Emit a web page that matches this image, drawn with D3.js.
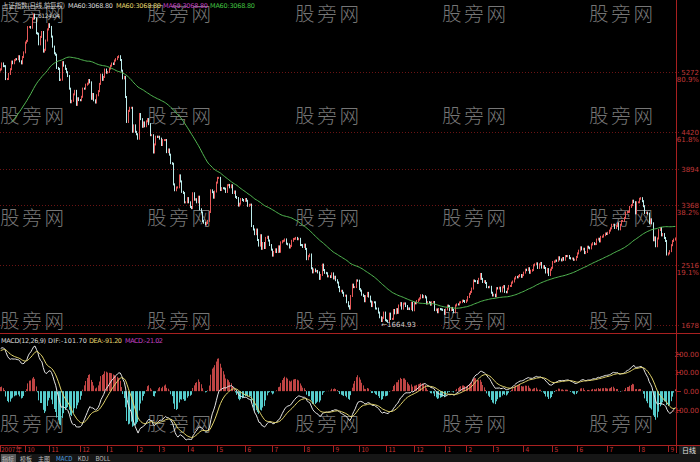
<!DOCTYPE html>
<html><head><meta charset="utf-8">
<script src="https://cdn.jsdelivr.net/npm/d3@7/dist/d3.min.js"></script>
<style>html,body{margin:0;padding:0;background:#000;overflow:hidden}svg{display:block}</style>
</head><body><svg id="c" width="700" height="462"></svg>
<script>
// ---------- DATA (daily closes of the Shanghai Composite, read/estimated) ----------
// warm-up closes before the visible window (used only for MA60 / MACD)
const warmupCloses = [4071,4181,3914,3820,
3837,3836,3615,3615,3781,3883,3914,3853,3930,3914,3806,3860,3907,3985,4058,4213,4300,4276,4347,4345,4440,4471,
4300,4406,4560,4628,4660,4750,4740,4749,4820,4872,4869,4787,4656,4793,4887,4920,4980,5032,5150,5194,5076,5108,5219,
5321,5294];
const closes = [
5310,5394,5356,5355,5171,5172,5244,5312,5421,5397,5441,5455,5454,5497,5425,5395,5485,5552,
5692,5716,5913,5914,5904,6030,6092,6036,5826,5818,5667,5773,5843,5563,5589,5721,5879,5954,
5915,5777,5634,5539,5518,5330,5316,5158,5163,5412,5362,5316,5269,5214,5034,4840,4861,4952,5003,4803,4897,4871,
4869,4918,5035,5034,5091,5105,5157,5124,4889,4958,4868,4836,4940,4999,5102,5234,5160,5201,5307,5262,
5273,5320,5361,5393,5386,5435,5456,5484,5497,5443,5291,5181,5203,4915,4559,4717,4761,4761,4419,4510,4418,4383,
4320,4672,4599,4490,4552,4497,4568,4600,4528,4370,4370,4123,4238,4349,4345,4348,
4321,4230,4300,4300,4301,4128,4166,4092,3971,3962,3668,3584,3623,3626,3796,3710,3561,3544,3411,3412,3472,
3412,3346,3329,3541,3449,3456,3412,3492,3312,3267,3145,3120,3094,3116,3147,3274,3583,3557,3478,3566,3693,
3761,3761,3587,3614,3613,3606,3560,3656,3660,3626,3655,3545,3566,3488,3473,3365,3392,3458,3445,3433,
3459,3434,3362,3377,3379,3073,3024,2957,3023,2874,2794,2942,2748,2831,2760,2904,2920,2866,2802,2736,
2651,2703,2741,2702,2783,2706,2840,2857,2864,2882,2820,2811,2767,2790,2863,2889,2892,2904,2885,2891,2802,2801,2775,
2808,2747,2600,2644,2667,2470,2412,2453,2428,2432,2411,2319,2375,2523,2445,2405,2399,2355,2357,2345,2397,
2325,2350,2300,2267,2202,2143,2149,2121,2078,2080,1986,1929,1895,2075,2237,2201,2202,2297,2293,
2173,2151,2093,2074,2000,2073,2119,2066,1996,1931,1985,1984,1896,1895,1838,1771,1718,1763,1838,1729,
1720,1706,1823,1747,1748,1875,1827,1887,1834,1939,1973,1894,1966,1969,1931,1889,1897,1888,1978,1871,
1976,1970,2002,2023,2042,2085,2057,2072,2055,1968,1987,1980,1951,1985,1989,1873,1883,1843,1889,1886,1881,1875,1820,
1882,1937,1929,1872,1904,1875,1841,1940,1955,1954,1983,1987,2008,2003,1990,
2011,2060,2106,2133,2181,2296,2287,2286,2261,2320,2389,2319,2275,2287,2260,2201,2200,2206,2121,2082,
2093,2071,2187,2182,2193,2141,2199,2216,2133,2128,2178,2218,2218,2265,2282,2325,2347,2341,2359,2374,2348,2373,
2408,2450,2444,2471,2406,2436,2445,2513,2526,2541,2475,2527,2546,2480,2501,2474,2410,2459,2374,2450,2477,
2560,2567,2581,2577,2627,2597,2583,2617,2592,2645,2643,2646,2615,2610,2610,2591,2593,2632,
2683,2722,2769,2740,2749,2687,2703,2778,2764,2754,2810,2829,2815,2816,2880,2892,2854,2919,2923,2943,2967,2959,
2977,3008,3040,3091,3092,3046,3073,3113,3026,3091,3145,3146,3189,3266,3274,3276,3346,3372,3435,3414,3254,3412,3412,
3462,3471,3428,3356,3260,3265,3250,3112,3169,3112,2870,2911,2785,2896,3016,3046,2940,2959,2903,2860,2667,
2683,2715,2800,2859,2880,2896];
const monthLabels = ["2007年","10","11","12","1","2","3","4","5","6","7","8","9","10","11","12","1","2","3","4","5","6","7","8","9"];
const monthCounts = [18,18,22,20,22,16,21,21,20,20,23,21,19,20,20,23,15,20,22,21,18,22,23,21,6];
const swingHigh = 6124.04, swingHighIndex = 24;
const swingLow = 1664.93, swingLowIndex = 276;
const fibRatios = [0.809, 0.618, 0.5, 0.382, 0.191, 0];
const fibValueLabels = ["5272","4420","3894","3368","2516","1678"];
const fibPctLabels = ["80.9%","61.8%","","38.2%","19.1%",""];
const macdTicks = [200, 100, 0, -100];
const titleText = "上证指数(日线,前复权)";
const maLegend = ["MA60:3068.80","MA60:3068.80","MA60:3068.80","MA60:3068.80"];
const macdLegend = ["MACD(12,26,9)","DIF:-101.70","DEA:-91.20","MACD:-21.02"];
const bottomTabs = ["指标","模板","主图","MACD","KDJ","BOLL"];
const watermark = "股旁网";

// ---------- LAYOUT ----------
const W = 700, H = 462, plotR = 676;
const mainTop = 0, mainBot = 333, macdTop = 334, macdBot = 445;
const svg = d3.select("#c");
svg.append("rect").attr("width", W).attr("height", H).attr("fill", "#000");

const all = warmupCloses.concat(closes);
const off = warmupCloses.length;
const N = closes.length;

const x = d3.scaleLinear().domain([0, N]).range([0, plotR]);
const y = d3.scaleLinear().domain([swingLow, swingHigh]).range([324.7, 12.3]);
const ym = d3.scaleLinear().domain([-100, 200]).range([410, 353.5]);

// indicators
function ema(arr, n) { const k = 2 / (n + 1); const out = []; let p = arr[0];
  arr.forEach((v, i) => { p = i === 0 ? v : p + k * (v - p); out.push(p); }); return out; }
const e12 = ema(all, 12), e26 = ema(all, 26);
const difAll = all.map((v, i) => e12[i] - e26[i]);
const deaAll = ema(difAll, 9);
const bars = closes.map((c, i) => {
  const j = i + off;
  const o = all[j - 1];
  let ma = null;
  if (j >= 59) ma = d3.mean(all.slice(j - 59, j + 1));
  return { i, o, c, ma, dif: difAll[j], dea: deaAll[j], m: 2 * (difAll[j] - deaAll[j]) };
});

// watermarks
const wmX = [0, 147, 295, 442, 589], wmY = [14, 116, 218, 321, 424];
const wm = svg.append("g");
wmY.forEach(yy => wmX.forEach(xx => {
  wm.append("text").attr("x", xx).attr("y", yy).attr("dy", "0.36em")
    .attr("font-family", "'Noto Sans CJK SC',sans-serif").attr("font-size", 19.5).attr("font-weight", 300)
    .attr("fill", "#767676").attr("textLength", 64).text(watermark);
}));

const defs = svg.append("defs");
defs.append("clipPath").attr("id", "cm").append("rect").attr("x", 0).attr("y", mainTop).attr("width", plotR).attr("height", mainBot - mainTop);
defs.append("clipPath").attr("id", "cd").append("rect").attr("x", 0).attr("y", macdTop).attr("width", plotR).attr("height", macdBot - macdTop);

// fib lines
const fibVals = fibRatios.map(r => swingLow + r * (swingHigh - swingLow));
const fg = svg.append("g");
const sf = "'DejaVu Sans',sans-serif";
fibVals.forEach((v, k) => {
  const yy = Math.round(y(v)) + 0.5;
  fg.append("line").attr("x1", 0).attr("x2", plotR + 5).attr("y1", yy).attr("y2", yy)
    .attr("stroke", "#6a1414").attr("stroke-dasharray", "1,2");
  fg.append("text").attr("x", 699).attr("y", yy).attr("dy", "0.3em").attr("text-anchor", "end")
    .attr("font-family", sf).attr("font-size", 7).attr("fill", "#c03838").text(fibValueLabels[k]);
  if (fibPctLabels[k]) fg.append("text").attr("x", 699).attr("y", yy + 7).attr("dy", "0.3em").attr("text-anchor", "end")
    .attr("font-family", sf).attr("font-size", 7).attr("fill", "#c03838").text(fibPctLabels[k]);
});

// candles
const gm = svg.append("g").attr("clip-path", "url(#cm)");
gm.selectAll("rect.k").data(bars).join("rect").attr("class", "k")
  .attr("x", d => Math.round(x(d.i)))
  .attr("width", 1)
  .attr("y", d => y(Math.max(d.o, d.c)) - 1)
  .attr("height", d => Math.max(2, Math.abs(y(d.o) - y(d.c)) + 2))
  .attr("fill", d => d.c >= d.o ? "#e65858" : "#bcecec");

// MA60
const maLine = d3.line().defined(d => d.ma !== null).x(d => x(d.i + 0.5)).y(d => y(d.ma));
gm.append("path").datum(bars).attr("d", maLine).attr("fill", "none").attr("stroke", "#52b852").attr("stroke-width", 1);

// high / low markers
svg.append("text").attr("x", x(swingHighIndex) + 5).attr("y", 18).attr("font-family", sf)
  .attr("font-size", 6).attr("fill", "#cfcfcf").attr("textLength", 22).text("6124.04");
svg.append("text").attr("x", x(swingLowIndex) + 2).attr("y", y(swingLow)).attr("dy", "0.3em").attr("font-family", sf)
  .attr("font-size", 7).attr("fill", "#cfcfcf").text("←" + swingLow.toFixed(2));

// MACD
const gd = svg.append("g").attr("clip-path", "url(#cd)");
gd.selectAll("line.h").data(bars).join("line").attr("class", "h")
  .attr("x1", d => Math.round(x(d.i)) + 0.5).attr("x2", d => Math.round(x(d.i)) + 0.5)
  .attr("y1", ym(0)).attr("y2", d => ym(d.m))
  .attr("stroke", d => d.m >= 0 ? "#c04444" : "#56cccc").attr("stroke-width", 1);
gd.append("path").datum(bars).attr("d", d3.line().x(d => x(d.i + 0.5)).y(d => ym(d.dif)))
  .attr("fill", "none").attr("stroke", "#e6e6e6").attr("stroke-width", 1);
gd.append("path").datum(bars).attr("d", d3.line().x(d => x(d.i + 0.5)).y(d => ym(d.dea)))
  .attr("fill", "none").attr("stroke", "#e2d46c").attr("stroke-width", 1);

macdTicks.forEach(t => {
  const yy = Math.round(ym(t)) + 0.5;
  svg.append("line").attr("x1", plotR).attr("x2", plotR + 5).attr("y1", yy).attr("y2", yy).attr("stroke", "#a02020");
  svg.append("text").attr("x", 699).attr("y", yy).attr("dy", "0.3em").attr("text-anchor", "end")
    .attr("font-family", sf).attr("font-size", 7).attr("fill", "#c03838").text(t.toFixed(2));
});

// frame lines
svg.append("line").attr("x1", plotR + 0.5).attr("x2", plotR + 0.5).attr("y1", 0).attr("y2", 453).attr("stroke", "#a82020");
svg.append("line").attr("x1", 0).attr("x2", W).attr("y1", mainBot + 0.5).attr("y2", mainBot + 0.5).attr("stroke", "#a82020");
svg.append("line").attr("x1", 0).attr("x2", W).attr("y1", macdBot + 0.5).attr("y2", macdBot + 0.5).attr("stroke", "#a82020");

// month axis
let acc = 0;
const starts = monthCounts.map(c => { const s = acc; acc += c; return s; });
const ga = svg.append("g");
starts.forEach((s, k) => {
  const xx = Math.round(x(s)) + 0.5;
  ga.append("line").attr("x1", xx).attr("x2", xx).attr("y1", macdBot).attr("y2", macdBot + 7).attr("stroke", "#a82020");
  ga.append("text").attr("x", k === 0 ? 1 : xx + 2).attr("y", 452).attr("font-family", "'Noto Sans CJK SC','DejaVu Sans',sans-serif")
    .attr("font-size", 6.5).attr("fill", "#c83434").text(monthLabels[k]);
});
svg.append("rect").attr("x", 679).attr("y", 446).attr("width", 21).attr("height", 8).attr("fill", "#1c1c1c");
svg.append("text").attr("x", 682).attr("y", 453).attr("font-family", "'Noto Sans CJK SC',sans-serif")
  .attr("font-size", 7).attr("fill", "#e0e0e0").text("日线");

// bottom strip
svg.append("rect").attr("x", 0).attr("y", 454).attr("width", W).attr("height", 8).attr("fill", "#161616");
let bx = 2;
bottomTabs.forEach((t, k) => {
  const w = t.length * (/[A-Z]/.test(t) ? 4.2 : 6.5) + 2;
  if (k === 0) svg.append("rect").attr("x", bx - 1).attr("y", 454).attr("width", w).attr("height", 8).attr("fill", "#5a5a5a");
  svg.append("text").attr("x", bx).attr("y", 461).attr("font-family", "'Noto Sans CJK SC',sans-serif")
    .attr("font-size", 6).attr("fill", t === "MACD" ? "#4aa0e0" : "#bdbdbd").text(t);
  bx += w + 3;
});

// title / legends
const tf = "'Noto Sans CJK SC','DejaVu Sans',sans-serif";
svg.append("text").attr("x", 2).attr("y", 8).attr("font-family", tf).attr("font-size", 6.5).attr("fill", "#cfcfcf")
  .attr("textLength", 63).text(titleText);
const maCols = ["#d8d8d8", "#e2d46c", "#c040c0", "#40c040"];
const maX = [68, 116, 163, 210];
maLegend.forEach((t, k) => svg.append("text").attr("x", maX[k]).attr("y", 8).attr("font-family", sf)
  .attr("font-size", 6.5).attr("fill", maCols[k]).attr("textLength", 45).text(t));
const mlCols = ["#d8d8d8", "#d8d8d8", "#e2d46c", "#c040c0"];
const mlX = [1, 48, 89, 125];
const mlW = [45, 39, 33, 38];
macdLegend.forEach((t, k) => svg.append("text").attr("x", mlX[k]).attr("y", 343).attr("font-family", sf)
  .attr("font-size", 6.5).attr("fill", mlCols[k]).attr("textLength", mlW[k]).text(t));
</script></body></html>
